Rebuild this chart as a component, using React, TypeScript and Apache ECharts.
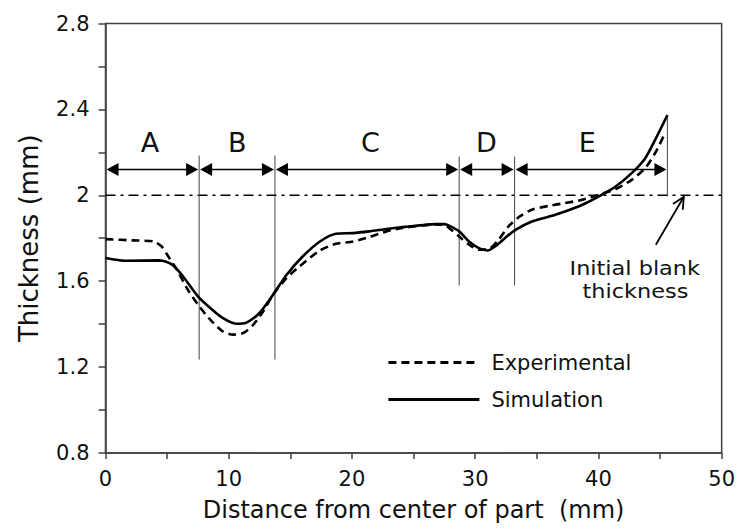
import React, { useEffect, useRef } from 'react';
import * as echarts from 'echarts';

const FONT = '"DejaVu Sans", "Open Sans", sans-serif';

// Simulation (solid)
const simX = [0, 1.6, 4.4, 5.4, 6.3, 7.5, 8.5, 9.5, 10.6, 11.4, 12.5, 13.6, 14.7, 16.0, 17.4, 18.7, 20.1, 21.4, 22.8, 24.1, 25.5, 26.8, 27.5, 28.0, 28.7, 29.5, 30.3, 31.0, 31.8, 32.5, 33.3, 34.6, 36.0, 37.3, 38.7, 40.0, 41.4, 42.7, 43.8, 44.6, 45.6];
const simY = [1.708, 1.695, 1.697, 1.677, 1.622, 1.529, 1.475, 1.429, 1.402, 1.406, 1.452, 1.537, 1.63, 1.715, 1.785, 1.821, 1.824, 1.832, 1.843, 1.852, 1.86, 1.866, 1.866, 1.855, 1.832, 1.785, 1.754, 1.743, 1.77, 1.805, 1.84, 1.878, 1.901, 1.925, 1.956, 1.994, 2.041, 2.103, 2.173, 2.258, 2.374];

// Experimental (dashed)
const expX = [0, 2.2, 3.9, 4.55, 5.1, 5.8, 6.6, 7.5, 8.5, 9.5, 10.35, 11.2, 12.0, 12.8, 13.6, 14.7, 15.75, 17.4, 18.7, 20.1, 21.4, 22.8, 24.1, 25.5, 26.8, 27.5, 27.9, 28.7, 29.5, 30.3, 31.1, 31.9, 32.7, 33.6, 34.6, 36.0, 37.3, 38.7, 40.0, 41.4, 42.7, 43.8, 44.6, 45.4];
const expY = [1.796, 1.79, 1.785, 1.762, 1.715, 1.653, 1.568, 1.491, 1.421, 1.367, 1.351, 1.359, 1.398, 1.46, 1.537, 1.615, 1.669, 1.743, 1.774, 1.785, 1.806, 1.832, 1.848, 1.858, 1.864, 1.862, 1.847, 1.808, 1.77, 1.747, 1.75, 1.793, 1.855, 1.901, 1.933, 1.951, 1.964, 1.979, 2.002, 2.029, 2.072, 2.127, 2.196, 2.289];

const initialBlank = 2.0;

// Region annotations
const regionBounds = [0, 7.6, 13.75, 28.7, 33.2, 45.6];
const regionLabels = ['A', 'B', 'C', 'D', 'E'];
const regionLabelX = [3.6, 10.7, 21.5, 30.9, 39.1];
const regionLabelY = 2.245;
const arrowY = 2.12;
// divider lines: x, yBottom, yTop
const dividers = [
  [7.6, 1.235, 2.185],
  [13.75, 1.235, 2.185],
  [28.7, 1.58, 2.18],
  [33.2, 1.58, 2.18],
  [45.6, 1.995, 2.37],
];
// "Initial blank thickness" pointer: x0, y0 -> x1, y1
const blankArrow = [[44.66, 1.77, 46.93, 1.993]];
const blankTextLines = ['Initial blank', 'thickness'];
const blankTextPos = [[42.95, 1.662], [43.0, 1.555]];

const xLabels = ['0', '10', '20', '30', '40', '50'];
const yLabels = ['0.8', '1.2', '1.6', '2', '2.4', '2.8'];

export default function App() {
  const ref = useRef<HTMLDivElement>(null);
  useEffect(() => {
    if (!ref.current) return;
    const chart = echarts.init(ref.current, null, { renderer: 'svg' });
    const axisColor = '#404040';
    const option: any = {
      animation: false,
      backgroundColor: '#fff',
      grid: {
        left: 105.5,
        top: 23.5,
        right: 15,
        bottom: 76,
        show: true,
        borderColor: axisColor,
        borderWidth: 1.5,
        backgroundColor: 'transparent',
      },
      legend: {
        data: ['Experimental', 'Simulation'],
        orient: 'vertical',
        left: 382,
        top: 347,
        itemWidth: 91,
        itemHeight: 14,
        itemGap: 16,
        itemStyle: { opacity: 0, color: 'rgba(0,0,0,0)', borderWidth: 0 },
        lineStyle: { width: 2.8 },
        textStyle: { fontSize: 21, fontFamily: FONT, color: '#111', padding: [0, 0, 0, 7] },
      },
      xAxis: {
        type: 'value',
        min: 0,
        max: 50,
        interval: 5,
        name: 'Distance from center of part  (mm)',
        nameLocation: 'middle',
        nameGap: 45,
        nameTextStyle: { fontSize: 24, fontFamily: FONT, color: '#111' },
        splitLine: { show: false },
        axisLine: { lineStyle: { color: axisColor, width: 1.5 } },
        axisTick: { inside: false, length: 6, lineStyle: { color: axisColor, width: 1.5 } },
        axisLabel: {
          fontSize: 21,
          fontFamily: FONT,
          color: '#111',
          margin: 15,
          formatter: (v: number) => {
            const i = xLabels.indexOf(String(v));
            return i >= 0 ? xLabels[i] : '';
          },
        },
      },
      yAxis: {
        type: 'value',
        min: 0.8,
        max: 2.8,
        interval: 0.2,
        name: 'Thickness (mm)',
        nameLocation: 'middle',
        nameGap: 64,
        nameTextStyle: { fontSize: 26, fontFamily: FONT, color: '#111' },
        splitLine: { show: false },
        axisLine: { lineStyle: { color: axisColor, width: 1.5 } },
        axisTick: { inside: false, length: 7, lineStyle: { color: axisColor, width: 1.5 } },
        axisLabel: {
          fontSize: 21,
          fontFamily: FONT,
          color: '#111',
          margin: 16,
          formatter: (v: number) => {
            const s = String(Number(v.toFixed(1)));
            return yLabels.indexOf(s) >= 0 ? s : '';
          },
        },
      },
      series: [
        {
          name: 'Initial',
          type: 'line',
          data: [[0, initialBlank], [50, initialBlank]],
          symbol: 'none',
          silent: true,
          lineStyle: { color: '#000', width: 1.5, type: [10, 5, 3, 5] },
          z: 1,
        },
        {
          name: 'Experimental',
          type: 'line',
          data: expX.map((x, i) => [x, expY[i]]),
          symbol: 'none',
          smooth: 0.25,
          lineStyle: { color: '#000', width: 2.6, type: [8, 5] },
          itemStyle: { color: '#000' },
          z: 3,
        },
        {
          name: 'Simulation',
          type: 'line',
          data: simX.map((x, i) => [x, simY[i]]),
          symbol: 'none',
          smooth: 0.25,
          lineStyle: { color: '#000', width: 2.6 },
          itemStyle: { color: '#000' },
          z: 3,
        },
        {
          name: 'dividers',
          type: 'custom',
          silent: true,
          clip: false,
          data: dividers,
          renderItem: (params: any, api: any) => {
            const x = api.value(0);
            const a = api.coord([x, api.value(1)]);
            const b = api.coord([x, api.value(2)]);
            return {
              type: 'line',
              shape: { x1: a[0], y1: a[1], x2: b[0], y2: b[1] },
              style: { stroke: '#444', lineWidth: 1 },
            };
          },
          z: 2,
        },
        {
          name: 'regionArrows',
          type: 'custom',
          silent: true,
          clip: false,
          data: regionBounds.slice(0, -1).map((b, i) => [b, regionBounds[i + 1], arrowY]),
          renderItem: (params: any, api: any) => {
            const y = api.value(2);
            const p0 = api.coord([api.value(0), y]);
            const p1 = api.coord([api.value(1), y]);
            const L = 12;
            const H = 6.5;
            const g0 = 1;
            return {
              type: 'group',
              children: [
                { type: 'line', shape: { x1: p0[0] + 4, y1: p0[1], x2: p1[0] - 4, y2: p1[1] }, style: { stroke: '#000', lineWidth: 1.5 } },
                { type: 'polygon', shape: { points: [[p0[0] + g0, p0[1]], [p0[0] + g0 + L, p0[1] - H], [p0[0] + g0 + L, p0[1] + H]] }, style: { fill: '#000' } },
                { type: 'polygon', shape: { points: [[p1[0] - g0, p1[1]], [p1[0] - g0 - L, p1[1] - H], [p1[0] - g0 - L, p1[1] + H]] }, style: { fill: '#000' } },
              ],
            };
          },
          z: 4,
        },
        {
          name: 'regionLabels',
          type: 'custom',
          silent: true,
          clip: false,
          data: regionLabelX.map((x) => [x, regionLabelY]),
          renderItem: (params: any, api: any) => {
            const p = api.coord([api.value(0), api.value(1)]);
            return {
              type: 'text',
              x: p[0],
              y: p[1],
              style: {
                text: regionLabels[params.dataIndex],
                fontSize: 27,
                fontFamily: FONT,
                fill: '#111',
                align: 'center',
                verticalAlign: 'middle',
              },
            };
          },
          z: 4,
        },
        {
          name: 'blankArrow',
          type: 'custom',
          silent: true,
          clip: false,
          data: blankArrow,
          renderItem: (params: any, api: any) => {
            const a = api.coord([api.value(0), api.value(1)]);
            const b = api.coord([api.value(2), api.value(3)]);
            const ang = Math.atan2(b[1] - a[1], b[0] - a[0]);
            const len = 13;
            const spread = 0.45;
            const l1 = [b[0] - len * Math.cos(ang - spread), b[1] - len * Math.sin(ang - spread)];
            const l2 = [b[0] - len * Math.cos(ang + spread), b[1] - len * Math.sin(ang + spread)];
            return {
              type: 'group',
              children: [
                { type: 'line', shape: { x1: a[0], y1: a[1], x2: b[0], y2: b[1] }, style: { stroke: '#000', lineWidth: 1.8 } },
                { type: 'polyline', shape: { points: [l1, b, l2] }, style: { stroke: '#000', lineWidth: 1.8, fill: 'none' } },
              ],
            };
          },
          z: 4,
        },
        {
          name: 'blankText',
          type: 'custom',
          silent: true,
          clip: false,
          data: blankTextPos,
          renderItem: (params: any, api: any) => {
            const p = api.coord([api.value(0), api.value(1)]);
            return {
              type: 'text',
              x: p[0],
              y: p[1],
              scaleX: 1.15,
              style: {
                text: blankTextLines[params.dataIndex],
                fontSize: 19.5,
                fontFamily: FONT,
                fill: '#111',
                align: 'center',
                verticalAlign: 'middle',
              },
            };
          },
          z: 4,
        },
      ],
    };
    chart.setOption(option);
    return () => chart.dispose();
  }, []);
  return <div ref={ref} style={{ width: 738, height: 529, position: 'absolute', left: 0, top: 0 }} />;
}
